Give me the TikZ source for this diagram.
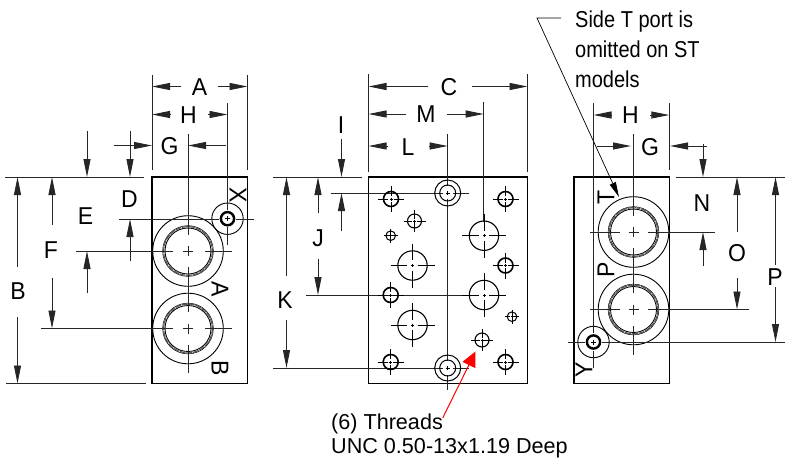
\documentclass[tikz,border=0pt]{standalone}
\usepackage{fontspec}
\setmainfont{Liberation Sans}
\usetikzlibrary{arrows.meta}
\tikzset{
  body/.style={draw=black,line width=1.2pt},
  cl/.style={draw=black!85,line width=0.9pt},
  thinl/.style={draw=black,line width=0.7pt},
  dimarrow/.style={draw=black!85,line width=0.9pt,-{Triangle[length=18pt,width=7pt]}},
  lab/.style={inner sep=0pt,font=\fontsize{23}{23}\selectfont},
  notetext/.style={inner sep=0pt,anchor=base west,font=\fontsize{21.6}{21.6}\selectfont},
  sidetext/.style={inner sep=0pt,anchor=base west,font=\fontsize{20}{20}\selectfont},
}
\newcommand\lbl[1]{\scalebox{1}[1.06]{#1}}
\newcommand\slbl[1]{\scalebox{1}[1.15]{#1}}
% name, label, label position, tail1, tip1, tail2, tip2
\newcommand\dimpair[7]{%
  \node[lab] (#1) at (#3) {\lbl{#2}};
  \coordinate (#1-t1) at (#4); \coordinate (#1-a1) at (#5);
  \coordinate (#1-t2) at (#6); \coordinate (#1-a2) at (#7);
  \draw[dimarrow] (#1-t1) -- (#1-a1);
  \draw[dimarrow] (#1-t2) -- (#1-a2);
}
% x, y, r, arm, circle width
\newcommand\hole[5]{%
  \draw[line width=#5pt] (#1,#2) circle[radius=#3];
  \pgfmathsetmacro\gp{#3*0.35}
  \draw[line width=0.95pt]
    (#1-#4,#2) -- (#1-\gp,#2) (#1+\gp,#2) -- (#1+#4,#2)
    (#1,#2-#4) -- (#1,#2-\gp) (#1,#2+\gp) -- (#1,#2+#4)
    (#1-1.5,#2) -- (#1+1.5,#2) (#1,#2-1.5) -- (#1,#2+1.5);
}
\newcommand\port[2]{%
  \draw[thinl,line width=0.9pt] (#1,#2) circle[radius=35.3];
  \draw[line width=0.85pt] (#1,#2) circle[radius=23];
  \draw[line width=1.2pt,black!65,dash pattern=on 6pt off 0.8pt] (#1,#2) circle[radius=24.4];
  \draw[line width=0.5pt] (#1,#2) circle[radius=25.4];
}
\newcommand\pilot[2]{%
  \draw[thinl,line width=0.9pt] (#1,#2) circle[radius=15.7];
  \draw[line width=2.4pt] (#1,#2) circle[radius=6.6];
  \draw[line width=0.7pt] (#1-2.5,#2) -- (#1+2.5,#2) (#1,#2-2.5) -- (#1,#2+2.5);
}
\newcommand\conc[2]{%
  \draw[line width=1pt] (#1,#2) circle[radius=13];
  \draw[line width=1pt] (#1,#2) circle[radius=8];
  \draw[line width=0.8pt] (#1-2,#2) -- (#1+2,#2) (#1,#2-2) -- (#1,#2+2);
}
\begin{document}
\begin{tikzpicture}[x=1pt,y=-1pt]
\useasboundingbox (0,0) rectangle (785,459);
% ===== left view =====
\draw[body] (152,177) rectangle (247.5,383.5);
\port{188}{251}
\port{188}{328.5}
\pilot{227.5}{218.7}
\draw[cl] (152,75) -- (152,170) (247.5,75) -- (247.5,170);
\draw[cl] (227.5,103) -- (227.5,210) (227.5,227) -- (227.5,245);
\draw[cl] (188,134) -- (188,235) (188,246) -- (188,256) (188,267) -- (188,312)
  (188,323.5) -- (188,333.5) (188,345) -- (188,373);
\draw[cl] (5,177) -- (144,177) (6,383.5) -- (146,383.5);
\draw[cl] (119,219) -- (219,219) (236,219) -- (254,219);
\draw[cl] (76,251) -- (172.5,251) (183,251) -- (193,251) (205,251) -- (232,251);
\draw[cl] (41,328.5) -- (172.5,328.5) (183,328.5) -- (193,328.5) (205,328.5) -- (232,328.5);
\dimpair{lA}{A}{199.5,87}{181,86.5}{152,86.5}{218,86.5}{247.5,86.5}
\dimpair{lH}{H}{188.5,115}{171,114.5}{152,114.5}{208,114.5}{227.5,114.5}
\dimpair{lG}{G}{169.5,146}{114,145.5}{152,145.5}{226,145.5}{188,145.5}
\dimpair{lD}{D}{129.5,199}{130,131}{130,177}{130,261}{130,219}
\dimpair{lE}{E}{85.5,216}{87,131}{87,177}{87,293}{87,251}
\dimpair{lF}{F}{51,250}{52,225}{52,177}{52,278}{52,328.5}
\dimpair{lB}{B}{18,291}{17.5,267}{17.5,177}{17.5,317}{17.5,383.5}
\node[lab,rotate=-90] (lX) at (238,195) {\lbl{X}};
\node[lab,rotate=-90] (lPA) at (220,289) {\lbl{A}};
\node[lab,rotate=-90] (lPB) at (220,368) {\lbl{B}};
% ===== centre view =====
\draw[body] (368.5,177) rectangle (527.5,383.5);
\draw[cl] (368.5,74) -- (368.5,172) (527.5,74) -- (527.5,172);
\draw[cl] (483.7,102) -- (483.7,222);
\draw[cl] (447.7,134) -- (447.7,186) (447.7,199) -- (447.7,361) (447.7,375) -- (447.7,390);
\draw[cl] (273,177) -- (362,177);
\draw[cl] (273,368) -- (443,368) (453,368) -- (469,368);
\draw[cl] (331,193) -- (443,193) (453,193) -- (469,193);
\draw[cl] (306,295) -- (478,295) (490,295) -- (506,295);
\conc{447.7}{193}
\conc{447.7}{368}
\hole{391}{199}{7.5}{13}{1.6}
\hole{505.5}{199}{7.5}{13}{1.6}
\hole{505.5}{265.5}{7.5}{13}{1.6}
\hole{390.7}{295}{7.5}{13}{1.6}
\hole{390.7}{362}{7.5}{13}{1.6}
\hole{505.5}{362}{7.5}{13}{1.6}
\hole{414.5}{221}{7}{11}{1.1}
\hole{482}{340}{7}{11}{1.1}
\hole{390.7}{235.7}{4.8}{7}{1}
\hole{512}{316.7}{4.8}{7}{1}
\hole{412.5}{265.5}{14.7}{22}{1.1}
\hole{412.5}{325}{14.7}{22}{1.1}
\hole{484}{235.7}{14.7}{22}{1.1}
\hole{484}{295}{14.7}{22}{1.1}
\dimpair{cC}{C}{449,87}{428,86.5}{368.5,86.5}{472,86.5}{527.5,86.5}
\dimpair{cM}{M}{426,114.5}{406,114}{368.5,114}{447,114}{483.7,114}
\dimpair{cL}{L}{408,147}{388,146}{368.5,146}{429,146}{447.7,146}
\dimpair{cI}{I}{341,125}{341.5,139}{341.5,177}{341.5,231}{341.5,193}
\dimpair{cJ}{J}{318,238}{318,213}{318,177}{318,259}{318,295}
\dimpair{cK}{K}{285,300}{286.5,276}{286.5,177}{286.5,320}{286.5,368}
% ===== right view =====
\draw[body] (574,177) rectangle (669.3,383.5);
\port{633.5}{232}
\port{633.5}{309.5}
\pilot{593.5}{342}
\draw[cl] (593.5,103) -- (593.5,333) (593.5,351) -- (593.5,368);
\draw[cl] (669.3,103) -- (669.3,170);
\draw[cl] (633.5,134) -- (633.5,216) (633.5,227) -- (633.5,237) (633.5,248) -- (633.5,293)
  (633.5,304.5) -- (633.5,314.5) (633.5,326) -- (633.5,355);
\draw[cl] (676,177) -- (785,177);
\draw[cl] (590,232) -- (620,232) (628.5,232) -- (638.5,232) (648,232) -- (715,232);
\draw[cl] (590,309.5) -- (620,309.5) (628.5,309.5) -- (638.5,309.5) (648,309.5) -- (749,309.5);
\draw[cl] (568,342) -- (585,342) (602,342) -- (785,342);
\dimpair{rH}{H}{630.5,115}{612,115}{593.5,115}{650,115}{669.3,115}
\dimpair{rG}{G}{650,147}{597,146}{631,146}{707,146}{670,146}
\dimpair{rN}{N}{702,203}{703,144}{703,177}{703,266}{703,232}
\dimpair{rO}{O}{737,253}{737,232}{737,177}{737,278}{737,309.5}
\dimpair{rP}{P}{775,277}{775.5,265}{775.5,177}{775.5,287}{775.5,342}
\node[lab,rotate=90] (rPT) at (606,197) {\lbl{T}};
\node[lab,rotate=90] (rPP) at (606,270) {\lbl{P}};
\node[lab,rotate=90] (rY) at (584,370) {\lbl{Y}};
% ===== notes =====
\node[sidetext] (n1) at (575,27) {\slbl{Side T port is}};
\node[sidetext] (n2) at (575,57) {\slbl{omitted on ST}};
\node[sidetext] (n3) at (575,87) {\slbl{models}};
\coordinate (bend) at (537,18);
\coordinate (ldstart) at (561,18);
\coordinate (ldtip) at (619,197);
\draw[line width=0.7pt,-{Triangle[length=15pt,width=6.5pt]}] (ldstart) -- (bend) -- (ldtip);
\node[notetext] (t1) at (331,429) {(6) Threads};
\node[notetext] (t2) at (331,453.5) {UNC 0.50-13x1.19 Deep};
\coordinate (redstart) at (442.7,418);
\coordinate (redtip) at (475.5,351.5);
\draw[red,line width=1pt,-{Triangle[length=15pt,width=14pt]}] (redstart) -- (redtip);
\end{tikzpicture}
\end{document}
